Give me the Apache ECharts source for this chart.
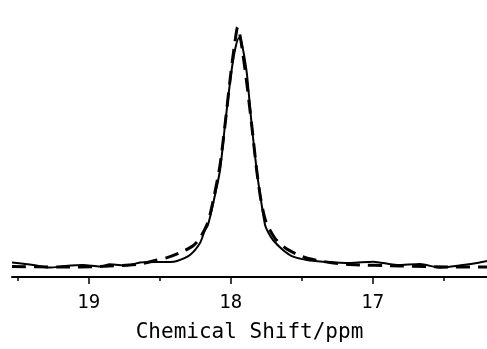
<!DOCTYPE html>
<html><head><meta charset="utf-8">
<script src="https://cdn.jsdelivr.net/npm/echarts@6/dist/echarts.min.js"></script>
<style>html,body{margin:0;padding:0;background:#fff}#c{width:487px;height:349px}</style>
</head><body><div id="c"></div>
<script>
// Chemical shift (ppm) and intensity
const expShift = [19.540,19.392,19.273,19.167,19.040,18.920,18.850,18.730,18.639,18.519,18.427,18.378,18.287,18.216,18.181,18.160,18.118,18.075,18.040,17.998,17.970,17.942,17.928,17.906,17.885,17.852,17.817,17.787,17.758,17.737,17.702,17.632,17.561,17.463,17.350,17.230,17.160,16.998,16.829,16.667,16.526,16.364,16.265,16.195];
const expInt   = [14.5,12,9.5,11,12,10.5,12.7,11.5,14.5,15,15,16,22,34,47,52,77,107,152,202,227,239,237,222,202,152,107,77,52,45,37,27,20.3,17,15.3,14.3,14,15.3,12,13,9.3,12,14,16];
const fitShift = [19.540,19.202,18.920,18.639,18.519,18.449,18.343,18.265,18.216,18.160,18.118,18.075,18.040,17.998,17.970,17.951,17.935,17.913,17.885,17.852,17.817,17.787,17.751,17.688,17.618,17.512,17.427,17.301,17.160,16.808,16.456,16.195];
const fitInt   = [10.5,10,10.5,13,17,19.3,25.3,31.3,39,55,80,112,152,205,235,250,242,222,192,152,107,77,55,38.7,29.3,21.3,17.7,14.5,12.5,11,10,10];
const majorTicks = [17,18,19];
const minorTicks = [16.5,17.5,18.5,19.5];
const xName = 'Chemical Shift/ppm';

const zip = (a,b)=>a.map((v,i)=>[v,b[i]]);
const chart = echarts.init(document.getElementById('c'));
const font = 'DejaVu Sans Mono';
chart.setOption({
  animation:false,
  backgroundColor:'#fff',
  grid:{left:12,right:0,top:0,bottom:72,containLabel:false,outerBoundsMode:'none'},
  xAxis:[{
    type:'value', min:16.195, max:19.54, inverse:true,
    axisLine:{show:true,lineStyle:{color:'#000',width:2}},
    axisTick:{show:true,customValues:majorTicks,length:7,lineStyle:{color:'#000',width:1.5}},
    axisLabel:{show:true,customValues:majorTicks,margin:17,color:'#000',fontFamily:font,fontSize:19,formatter:v=>String(v)},
    splitLine:{show:false},
    name:xName, nameLocation:'middle', nameGap:45,
    nameTextStyle:{color:'#000',fontFamily:font,fontSize:21}
  },{
    type:'value', min:16.195, max:19.54, inverse:true, position:'bottom',
    axisLine:{show:false},
    axisTick:{show:true,customValues:minorTicks,length:4,lineStyle:{color:'#000',width:1.5}},
    axisLabel:{show:false}, splitLine:{show:false}
  }],
  yAxis:{type:'value',min:0,max:277,show:false},
  series:[{
    type:'line', data:zip(expShift,expInt), showSymbol:false, smooth:0.25,
    lineStyle:{color:'#000',width:2}
  },{
    type:'line', data:zip(fitShift,fitInt), showSymbol:false, smooth:0.25,
    lineStyle:{color:'#000',width:3,type:[14,8]}
  }]
});
</script></body></html>
